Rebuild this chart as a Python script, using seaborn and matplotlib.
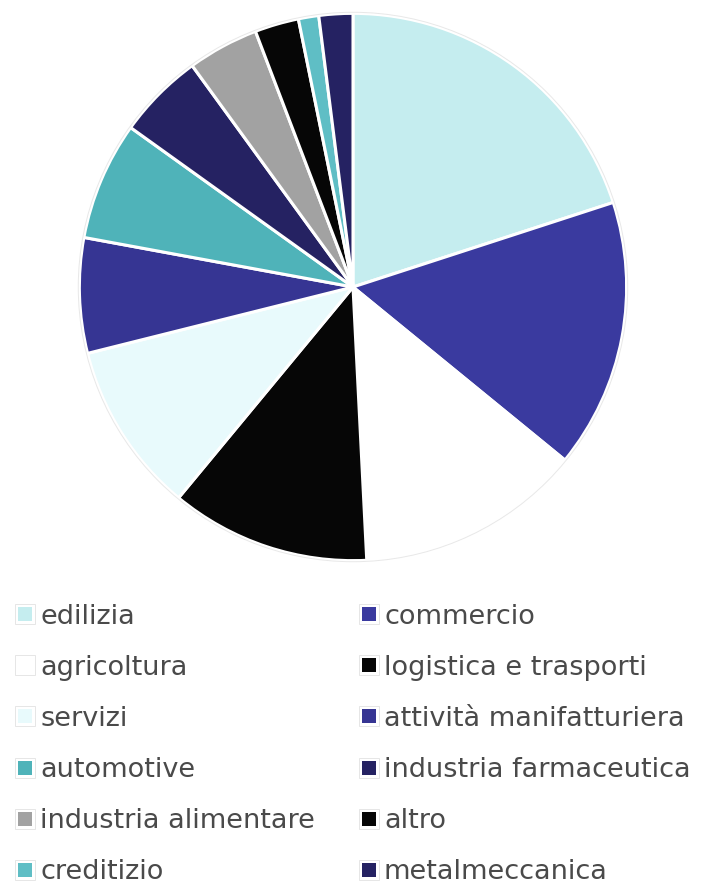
import matplotlib
matplotlib.use("Agg")
import matplotlib.pyplot as plt
import seaborn as sns
from matplotlib.lines import Line2D
from matplotlib.legend_handler import HandlerTuple

sns.set_theme(style="white")
plt.rcParams['font.family'] = ['DejaVu Sans']

categories = ["edilizia", "commercio", "agricoltura", "logistica e trasporti",
              "servizi", "attività manifatturiera", "automotive", "industria farmaceutica",
              "industria alimentare", "altro", "creditizio", "metalmeccanica"]
values = [20.0, 15.9, 13.3, 11.8, 10.1, 6.8, 7.0, 5.1, 4.2, 2.6, 1.2, 2.0]
colors = ["#C5EDEF", "#3A3A9F", "#FFFFFF", "#060606", "#E8FAFC", "#363593",
          "#4FB3B9", "#252262", "#A2A2A2", "#060606", "#5FBEC5", "#252262"]

W, H = 702, 885
fig = plt.figure(figsize=(W / 100, H / 100), dpi=100)
cx, cy, r = 353, 287, 275
ax = fig.add_axes([(cx - r) / W, (H - cy - r) / H, 2 * r / W, 2 * r / H])
wedges, _ = ax.pie(values, colors=colors, startangle=90, counterclock=False,
                   wedgeprops=dict(edgecolor="white", linewidth=2.2))
outline = plt.Circle((0, 0), 1.004, fill=False, edgecolor="#E8E8E8",
                     linewidth=0.7, clip_on=False)
ax.add_patch(outline)
ax.set_xlim(-1.005, 1.005)
ax.set_ylim(-1.005, 1.005)
ax.set_aspect("equal")
ax.axis("off")

fs = 19.5
fpx = fs * 100 / 72


def handle(c):
    outer = Line2D([], [], linestyle="none", marker="s", markersize=15,
                   markerfacecolor="white", markeredgecolor="#E6E6E6", markeredgewidth=0.7)
    inner = Line2D([], [], linestyle="none", marker="s", markersize=9.5,
                   markerfacecolor=c, markeredgecolor=c, markeredgewidth=0)
    return (outer, inner)


col_x = [13, 357]
for col in range(2):
    idx = list(range(col, len(categories), 2))
    leg = fig.legend([handle(colors[i]) for i in idx], [categories[i] for i in idx],
                     handler_map={tuple: HandlerTuple(ndivide=1, pad=0)},
                     loc="upper left", bbox_to_anchor=(col_x[col] / W, (H - 603.5) / H),
                     frameon=False, fontsize=fs, handlelength=24 / fpx, handleheight=0.7,
                     handletextpad=3 / fpx, labelspacing=0.93, borderaxespad=0,
                     borderpad=0)
    for t in leg.get_texts():
        t.set_color("#4A4A4A")

fig.savefig("out.png", dpi=100)
